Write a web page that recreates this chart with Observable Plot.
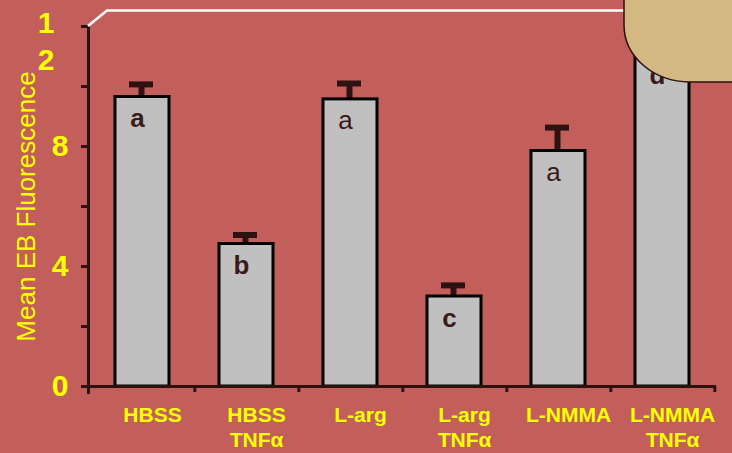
<!DOCTYPE html>
<html><head><meta charset="utf-8">
<script src="https://cdn.jsdelivr.net/npm/d3@7"></script>
<script src="https://cdn.jsdelivr.net/npm/@observablehq/plot@0.6"></script>
<style>
body{margin:0;background:#C25F5A;}
#chart{width:732px;height:453px;overflow:hidden;position:relative;}
</style>
</head><body><div id="chart"></div>
<script>
const categories = ["HBSS","HBSS TNFα","L-arg","L-arg TNFα","L-NMMA","L-NMMA TNFα"];
const xLabels = ["HBSS","HBSS\nTNFα","L-arg","L-arg\nTNFα","L-NMMA","L-NMMA\nTNFα"];
const means = [9.65,4.75,9.57,3.0,7.85,11.1];
const errTops = [10.07,5.05,10.1,3.37,8.63,11.7];
const letters = ["a","b","a","c","a","d"];
const boldLetters = ["HBSS","HBSS TNFα","L-arg TNFα","L-NMMA TNFα"];
const yTicks = [0,2,4,6,8,10,12];
const yTickLabels = {0:"0",4:"4",8:"8"};
const yTopLabel = "1\n2";
const yLabel = "Mean EB Fluorescence";

const rows = categories.map((c,i)=>({cat:c,label:xLabels[i],mean:means[i],err:errTops[i],letter:letters[i]}));

const dark = "#2E1212";
const yellow = "#FFFF00";
const step = (732-88-16)/categories.length;

const chart = Plot.plot({
  width:732, height:453,
  marginLeft:88, marginRight:16, marginTop:26, marginBottom:67,
  style:{background:"transparent", fontFamily:"Liberation Sans, Arial, sans-serif", overflow:"visible"},
  x:{domain:categories, padding:0, axis:null},
  y:{domain:[0,12], axis:null},
  marks:[
    Plot.ruleX(rows,{x:"cat", y1:"mean", y2:"err", stroke:dark, strokeWidth:6, dx:-1}),
    Plot.tickY(rows,{x:"cat", y:"err", stroke:dark, strokeWidth:6, insetLeft:40, insetRight:40, dx:-1}),
    Plot.barY(rows,{x:"cat", y:"mean", fill:"#C0C0C0", stroke:"#000", strokeWidth:3, insetLeft:25, insetRight:25}),
    Plot.text(rows.filter(d=>boldLetters.includes(d.cat)),{x:"cat", y:"mean", text:"letter", dy:30, dx:-5, lineAnchor:"bottom", fontSize:26, fontWeight:"bold", fill:"#3A1A1A"}),
    Plot.text(rows.filter(d=>!boldLetters.includes(d.cat)),{x:"cat", y:"mean", text:"letter", dy:30, dx:-5, lineAnchor:"bottom", fontSize:26, fill:"#3A1A1A"}),
    Plot.ruleY([0],{stroke:dark, strokeWidth:3, insetLeft:-7}),
    Plot.ruleX(categories,{x:d=>d, dx:step/2, y1:0, y2:-0.2, stroke:dark, strokeWidth:3}),
    Plot.frame({anchor:"left", stroke:dark, strokeWidth:3, insetBottom:-6}),
    Plot.axisY({ticks:yTicks, tickSize:7, tickPadding:13, tickFormat:d=>yTickLabels[d] ?? "", fontSize:30, fontWeight:"bold", fill:yellow, stroke:dark, strokeWidth:3}),
    Plot.text([12],{y:d=>d, text:()=>yTopLabel, frameAnchor:"left", dx:-34, dy:13, textAnchor:"end", lineAnchor:"middle", lineHeight:1.25, fontSize:30, fontWeight:"bold", fill:yellow}),
    Plot.text([yLabel],{frameAnchor:"left", dx:-62, rotate:-90, fontSize:26, fill:yellow, textAnchor:"middle"}),
    Plot.text(rows,{x:"cat", y:0, text:"label", dy:18, dx:10, lineAnchor:"top", lineHeight:1.19, fontSize:21, fontWeight:"bold", fill:yellow})
  ]
});
document.getElementById("chart").appendChild(chart);

// decorative overlays
const svg = d3.select(chart);
svg.append("polyline")
  .attr("points","88,26 107,10.5 624,10.5")
  .attr("fill","none").attr("stroke","#fff").attr("stroke-width",2.5);
svg.append("path")
  .attr("d","M624,-10 L624,25 A66,57 0 0 0 690,82 L740,82 L740,-10 Z")
  .attr("fill","#D4B882").attr("stroke","#2A1010").attr("stroke-width",1.5);
</script>
</body></html>
